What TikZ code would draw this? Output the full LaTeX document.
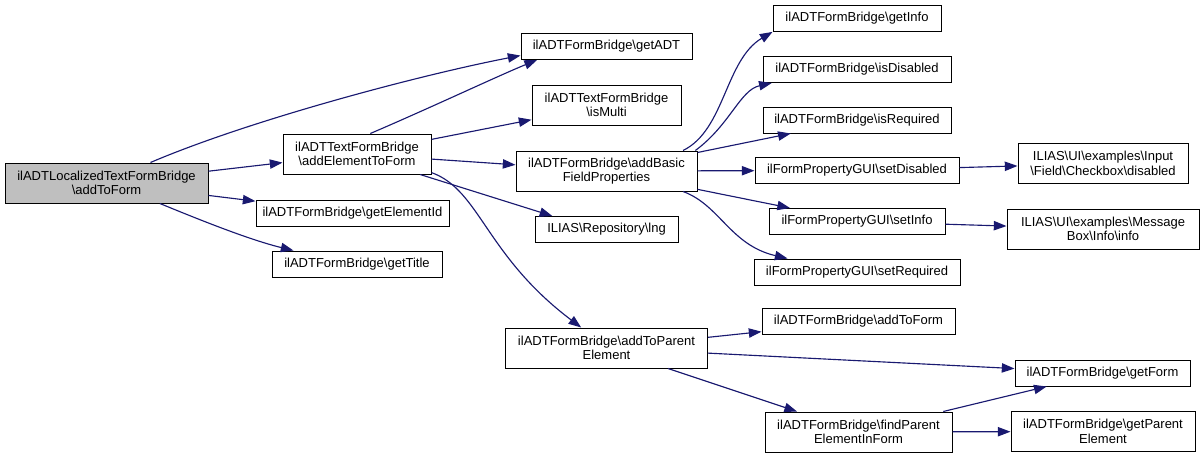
\documentclass[tikz,border=0pt]{standalone}
\usepackage{fontspec}
\setmainfont{Liberation Sans}
\usetikzlibrary{arrows.meta}

\definecolor{edge blue}{HTML}{191970}
\newcommand{\bsl}{\textbackslash}

\begin{document}
\begin{tikzpicture}[x = 0.75pt, y = -0.75pt,
		font = \fontsize{9.75}{10.75}\selectfont,
		fn/.style 2 args = {draw, line width = 0.75pt, inner sep = 0pt, align = center, minimum width = #1*0.75pt, minimum height = #2*0.75pt},
		call/.style = {draw = edge blue, line width = 0.85pt, -{Triangle[length = 9.5pt, width = 7pt]}}]
		
		\useasboundingbox (0,0) rectangle (1204,458);
		
		%functions
		\node [fn = {203}{40}, fill = gray!50] (main) at (106.5,183) {ilADTLocalizedTextFormBridge\\\bsl addToForm};
		
		\node [fn = {148}{40}] (aetf) at (357,154) {ilADTTextFormBridge\\\bsl addElementToForm};
		\node [fn = {193}{26}] (geid) at (352.5,213) {ilADTFormBridge\bsl getElementId};
		\node [fn = {170}{26}] (gtitle) at (357,264) {ilADTFormBridge\bsl getTitle};
		
		\node [fn = {171}{26}] (getadt) at (606.5,46.5) {ilADTFormBridge\bsl getADT};
		\node [fn = {149}{40}] (ismulti) at (606.5,105) {ilADTTextFormBridge\\\bsl isMulti};
		\node [fn = {181}{40}] (abfp) at (606.5,171) {ilADTFormBridge\bsl addBasic\\FieldProperties};
		\node [fn = {143}{26}] (lng) at (606.5,229.5) {ILIAS\bsl Repository\bsl lng};
		\node [fn = {202}{40}] (atpe) at (606.5,348) {ilADTFormBridge\bsl addToParent\\Element};
		
		\node [fn = {168}{26}] (getinfo) at (857,18.5) {ilADTFormBridge\bsl getInfo};
		\node [fn = {188}{26}] (isdis) at (857,69.5) {ilADTFormBridge\bsl isDisabled};
		\node [fn = {188}{26}] (isreq) at (857,120) {ilADTFormBridge\bsl isRequired};
		\node [fn = {204}{26}] (setdis) at (857,170.5) {ilFormPropertyGUI\bsl setDisabled};
		\node [fn = {176}{26}] (setinfo) at (857,221.5) {ilFormPropertyGUI\bsl setInfo};
		\node [fn = {206}{26}] (setreq) at (857,272) {ilFormPropertyGUI\bsl setRequired};
		\node [fn = {193}{26}] (atf) at (858.5,321.5) {ilADTFormBridge\bsl addToForm};
		\node [fn = {187}{40}] (fpeif) at (858.5,432) {ilADTFormBridge\bsl findParent\\ElementInForm};
		
		\node [fn = {170}{40}] (cbdis) at (1103,163.5) {ILIAS\bsl UI\bsl examples\bsl Input\\\bsl Field\bsl Checkbox\bsl disabled};
		\node [fn = {192}{40}] (mbinfo) at (1103,229) {ILIAS\bsl UI\bsl examples\bsl Message\\Box\bsl Info\bsl info};
		\node [fn = {175}{26}] (getform) at (1102.5,373) {ilADTFormBridge\bsl getForm};
		\node [fn = {184}{40}] (gpe) at (1103,431.5) {ilADTFormBridge\bsl getParent\\Element};
		
		%calls
		\draw [call] (main.25) .. controls (250,120) and (420,75) .. (getadt.186);
		\draw [call] (main) -- (aetf);
		\draw [call] (main) -- (geid);
		\draw [call] (main.-21) .. controls (200,220) and (250,240) .. (gtitle.168);
		
		\draw [call] (aetf.57) .. controls (430,108) and (500,75) .. (getadt.191.5);
		\draw [call] (aetf) -- (ismulti);
		\draw [call] (aetf) -- (abfp);
		\draw [call] (aetf.-18.4) -- (lng.166.6);
		\draw [call] (aetf.-14) .. controls (480,190) and (485,255) .. (atpe.141);
		
		\draw [call] (abfp.15) .. controls (725,130) and (725,60) .. (getinfo.189);
		\draw [call] (abfp.13.8) .. controls (730,125) and (740,90) .. (isdis.189.6);
		\draw [call] (abfp) -- (isreq);
		\draw [call] (abfp) -- (setdis);
		\draw [call] (abfp) -- (setinfo);
		\draw [call] (abfp.-15.6) .. controls (720,205) and (730,245) .. (setreq.169.5);
		
		\draw [call] (setdis) -- (cbdis);
		\draw [call] (setinfo) -- (mbinfo);
		
		\draw [call] (atpe) -- (atf);
		\draw [call] (atpe) -- (getform);
		\draw [call] (atpe) -- (fpeif);
		
		\draw [call] (fpeif) -- (getform);
		\draw [call] (fpeif) -- (gpe);
	\end{tikzpicture}
\end{document}
